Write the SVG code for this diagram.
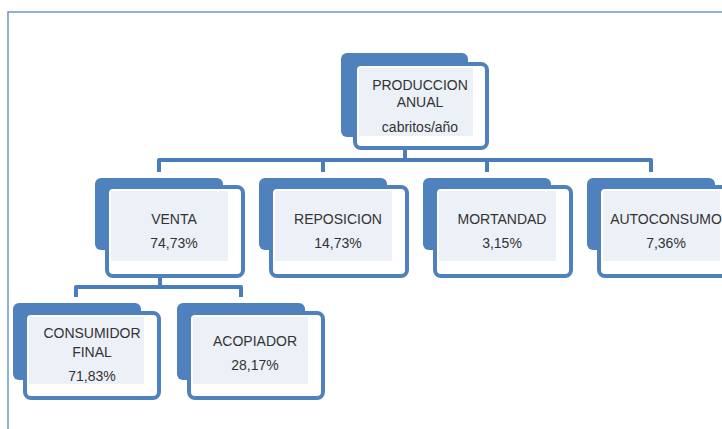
<svg xmlns="http://www.w3.org/2000/svg" width="722" height="429" viewBox="0 0 722 429">
<style>
.back{fill:#4f81bd;}
.front{fill:#ffffff;stroke:#4f81bd;stroke-width:4;}
.inner{fill:#ecf0f7;}
.t{font-family:"Liberation Sans",Arial,sans-serif;font-size:14px;fill:#333333;text-anchor:middle;}
.c{fill:none;stroke:#4a7ebb;stroke-width:4;stroke-linejoin:round;}
.frame{fill:none;stroke:#6f95c9;stroke-width:1.5;}
</style>
<rect width="722" height="429" fill="#ffffff"/>
<path class="frame" d="M722,12 H8 V429"/>
<g id="connectors">
<path class="c" d="M405,146 V160"/>
<path class="c" d="M159,172 V160 H651 V172"/>
<path class="c" d="M323,160 V172"/>
<path class="c" d="M487,160 V172"/>
<path class="c" d="M160,274 V287"/>
<path class="c" d="M76,297 V287 H241 V297"/>
</g>
<g id="produccion">
<rect class="back" x="341" y="53" width="127" height="84" rx="6"/>
<rect class="front" x="355" y="64" width="132" height="84" rx="6"/>
<rect class="inner" x="359" y="68" width="114" height="68"/>
<text class="t" x="420" y="90">PRODUCCION</text>
<text class="t" x="420" y="107">ANUAL</text>
<text class="t" x="420" y="132">cabritos/año</text>
</g>
<g id="venta">
<rect class="back" x="95" y="178" width="128" height="72" rx="6"/>
<rect class="front" x="107" y="187" width="136" height="89" rx="6"/>
<rect class="inner" x="111" y="191" width="117" height="70"/>
<text class="t" x="174" y="224">VENTA</text>
<text class="t" x="174" y="248">74,73%</text>
</g>
<g id="reposicion">
<rect class="back" x="259" y="178" width="128" height="72" rx="6"/>
<rect class="front" x="271" y="187" width="136" height="89" rx="6"/>
<rect class="inner" x="275" y="191" width="117" height="70"/>
<text class="t" x="338" y="224">REPOSICION</text>
<text class="t" x="338" y="248">14,73%</text>
</g>
<g id="mortandad">
<rect class="back" x="423" y="178" width="128" height="72" rx="6"/>
<rect class="front" x="435" y="187" width="136" height="89" rx="6"/>
<rect class="inner" x="439" y="191" width="117" height="70"/>
<text class="t" x="502" y="224">MORTANDAD</text>
<text class="t" x="502" y="248">3,15%</text>
</g>
<g id="autoconsumo">
<rect class="back" x="587" y="178" width="128" height="72" rx="6"/>
<rect class="front" x="599" y="187" width="136" height="89" rx="6"/>
<rect class="inner" x="603" y="191" width="117" height="70"/>
<text class="t" x="666" y="224">AUTOCONSUMO</text>
<text class="t" x="666" y="248">7,36%</text>
</g>
<g id="consumidor">
<rect class="back" x="13" y="303" width="128" height="77" rx="6"/>
<rect class="front" x="25" y="313" width="134" height="85" rx="6"/>
<rect class="inner" x="29" y="317" width="115" height="67"/>
<text class="t" x="92" y="338">CONSUMIDOR</text>
<text class="t" x="92" y="357">FINAL</text>
<text class="t" x="92" y="381">71,83%</text>
</g>
<g id="acopiador">
<rect class="back" x="177" y="303" width="128" height="77" rx="6"/>
<rect class="front" x="189" y="313" width="134" height="85" rx="6"/>
<rect class="inner" x="193" y="317" width="115" height="67"/>
<text class="t" x="255" y="346">ACOPIADOR</text>
<text class="t" x="255" y="370">28,17%</text>
</g>
</svg>
